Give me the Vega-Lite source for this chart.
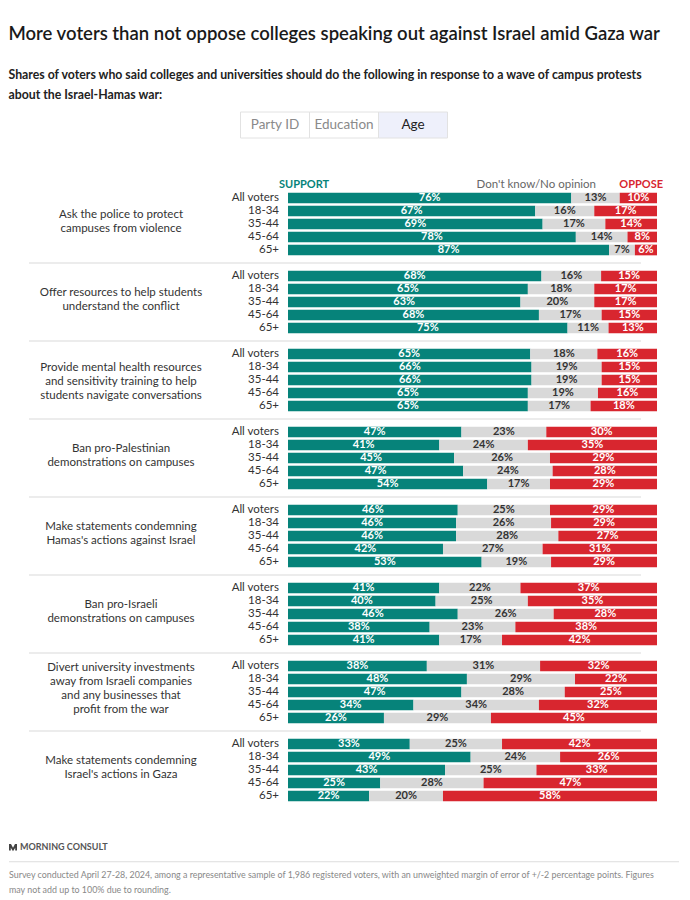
{
  "$schema": "https://vega.github.io/schema/vega-lite/v6.json",
  "background": "white",
  "padding": {"left": 8, "top": 24, "right": 12, "bottom": 0},
  "bounds": "flush",
  "title": {
    "text": "More voters than not oppose colleges speaking out against Israel amid Gaza war",
    "subtitle": [
      "Shares of voters who said colleges and universities should do the following in response to a wave of campus protests",
      "about the Israel-Hamas war:"
    ],
    "anchor": "start",
    "font": "Lato",
    "fontSize": 18.5,
    "fontWeight": 600,
    "color": "#1a1a1a",
    "subtitleFont": "Lato",
    "subtitleFontSize": 12.3,
    "subtitleFontWeight": 700,
    "subtitleColor": "#222222",
    "subtitleLineHeight": 20,
    "subtitlePadding": 26,
    "offset": 10
  },
  "datasets": {
    "rows": [
      {"q": "Q1", "age": "All voters", "favor": 0.76, "neutral": 0.13, "oppose": 0.10},
      {"q": "Q1", "age": "18-34", "favor": 0.67, "neutral": 0.16, "oppose": 0.17},
      {"q": "Q1", "age": "35-44", "favor": 0.69, "neutral": 0.17, "oppose": 0.14},
      {"q": "Q1", "age": "45-64", "favor": 0.78, "neutral": 0.14, "oppose": 0.08},
      {"q": "Q1", "age": "65+", "favor": 0.87, "neutral": 0.07, "oppose": 0.06},
      {"q": "Q2", "age": "All voters", "favor": 0.68, "neutral": 0.16, "oppose": 0.15},
      {"q": "Q2", "age": "18-34", "favor": 0.65, "neutral": 0.18, "oppose": 0.17},
      {"q": "Q2", "age": "35-44", "favor": 0.63, "neutral": 0.20, "oppose": 0.17},
      {"q": "Q2", "age": "45-64", "favor": 0.68, "neutral": 0.17, "oppose": 0.15},
      {"q": "Q2", "age": "65+", "favor": 0.75, "neutral": 0.11, "oppose": 0.13},
      {"q": "Q3", "age": "All voters", "favor": 0.65, "neutral": 0.18, "oppose": 0.16},
      {"q": "Q3", "age": "18-34", "favor": 0.66, "neutral": 0.19, "oppose": 0.15},
      {"q": "Q3", "age": "35-44", "favor": 0.66, "neutral": 0.19, "oppose": 0.15},
      {"q": "Q3", "age": "45-64", "favor": 0.65, "neutral": 0.19, "oppose": 0.16},
      {"q": "Q3", "age": "65+", "favor": 0.65, "neutral": 0.17, "oppose": 0.18},
      {"q": "Q4", "age": "All voters", "favor": 0.47, "neutral": 0.23, "oppose": 0.30},
      {"q": "Q4", "age": "18-34", "favor": 0.41, "neutral": 0.24, "oppose": 0.35},
      {"q": "Q4", "age": "35-44", "favor": 0.45, "neutral": 0.26, "oppose": 0.29},
      {"q": "Q4", "age": "45-64", "favor": 0.47, "neutral": 0.24, "oppose": 0.28},
      {"q": "Q4", "age": "65+", "favor": 0.54, "neutral": 0.17, "oppose": 0.29},
      {"q": "Q5", "age": "All voters", "favor": 0.46, "neutral": 0.25, "oppose": 0.29},
      {"q": "Q5", "age": "18-34", "favor": 0.46, "neutral": 0.26, "oppose": 0.29},
      {"q": "Q5", "age": "35-44", "favor": 0.46, "neutral": 0.28, "oppose": 0.27},
      {"q": "Q5", "age": "45-64", "favor": 0.42, "neutral": 0.27, "oppose": 0.31},
      {"q": "Q5", "age": "65+", "favor": 0.53, "neutral": 0.19, "oppose": 0.29},
      {"q": "Q6", "age": "All voters", "favor": 0.41, "neutral": 0.22, "oppose": 0.37},
      {"q": "Q6", "age": "18-34", "favor": 0.40, "neutral": 0.25, "oppose": 0.35},
      {"q": "Q6", "age": "35-44", "favor": 0.46, "neutral": 0.26, "oppose": 0.28},
      {"q": "Q6", "age": "45-64", "favor": 0.38, "neutral": 0.23, "oppose": 0.38},
      {"q": "Q6", "age": "65+", "favor": 0.41, "neutral": 0.17, "oppose": 0.42},
      {"q": "Q7", "age": "All voters", "favor": 0.38, "neutral": 0.31, "oppose": 0.32},
      {"q": "Q7", "age": "18-34", "favor": 0.48, "neutral": 0.29, "oppose": 0.22},
      {"q": "Q7", "age": "35-44", "favor": 0.47, "neutral": 0.28, "oppose": 0.25},
      {"q": "Q7", "age": "45-64", "favor": 0.34, "neutral": 0.34, "oppose": 0.32},
      {"q": "Q7", "age": "65+", "favor": 0.26, "neutral": 0.29, "oppose": 0.45},
      {"q": "Q8", "age": "All voters", "favor": 0.33, "neutral": 0.25, "oppose": 0.42},
      {"q": "Q8", "age": "18-34", "favor": 0.49, "neutral": 0.24, "oppose": 0.26},
      {"q": "Q8", "age": "35-44", "favor": 0.43, "neutral": 0.25, "oppose": 0.33},
      {"q": "Q8", "age": "45-64", "favor": 0.25, "neutral": 0.28, "oppose": 0.47},
      {"q": "Q8", "age": "65+", "favor": 0.22, "neutral": 0.20, "oppose": 0.58}
    ],
    "questions": [
      {"q": "Q1", "question": "Ask the police to protect\ncampuses from violence"},
      {"q": "Q2", "question": "Offer resources to help students\nunderstand the conflict"},
      {"q": "Q3", "question": "Provide mental health resources\nand sensitivity  training to help\nstudents navigate conversations"},
      {"q": "Q4", "question": "Ban pro-Palestinian\ndemonstrations on campuses"},
      {"q": "Q5", "question": "Make statements condemning\nHamas's actions against Israel"},
      {"q": "Q6", "question": "Ban pro-Israeli\ndemonstrations on campuses"},
      {"q": "Q7", "question": "Divert university investments\naway from Israeli companies\nand any businesses that\nprofit from the war"},
      {"q": "Q8", "question": "Make statements condemning\nIsrael's actions in Gaza"}
    ],
    "tabs": [
      {"tab": "Party ID", "selected": false},
      {"tab": "Education", "selected": false},
      {"tab": "Age", "selected": true}
    ],
    "footer": [
      {"part": "logo", "text": "MORNING CONSULT"},
      {"part": "note1", "text": "Survey conducted April 27-28, 2024, among a representative sample of 1,986 registered voters, with an unweighted margin of error of +/-2 percentage points. Figures"},
      {"part": "note2", "text": "may not add up to 100% due to rounding."}
    ]
  },
  "spacing": 10,
  "center": true,
  "vconcat": [
    {
      "width": 207,
      "height": 26,
      "data": {"name": "tabs"},
      "layer": [
        {
          "mark": {"type": "rect", "stroke": "#e2e2e2", "strokeWidth": 1},
          "encoding": {
            "x": {"field": "tab", "type": "nominal", "sort": null, "axis": null, "scale": {"paddingInner": 0, "paddingOuter": 0}},
            "fill": {"condition": {"test": "datum.selected", "value": "#eef0fb"}, "value": "white"}
          }
        },
        {
          "mark": {"type": "text", "fontSize": 13.5, "font": "Lato", "baseline": "middle"},
          "encoding": {
            "x": {"field": "tab", "type": "nominal", "sort": null, "axis": null},
            "text": {"field": "tab"},
            "color": {"condition": {"test": "datum.selected", "value": "#222222"}, "value": "#8a8a8a"}
          }
        }
      ]
    },
    {
      "width": 670,
      "height": 681.5,
      "data": {"name": "rows"},
      "layer": [
        {
          "transform": [{"fold": ["favor", "neutral", "oppose"], "as": ["key", "value"]}],
          "mark": {"type": "bar"},
          "encoding": {
            "y": {"field": "q", "type": "nominal", "axis": null, "scale": {"type": "band", "paddingInner": 0.16667, "paddingOuter": 0.4519, "align": 0.617}},
            "yOffset": {"field": "age", "type": "nominal", "scale": {"domain": ["All voters", "18-34", "35-44", "45-64", "65+"], "paddingInner": 0.18, "paddingOuter": 0.09}},
            "x": {"field": "value", "type": "quantitative", "stack": "normalize", "axis": null, "scale": {"domain": [-0.7561, 1.0596], "nice": false, "zero": false}},
            "color": {"field": "key", "type": "nominal", "legend": null, "scale": {"domain": ["favor", "neutral", "oppose"], "range": ["#06837a", "#d9d9d9", "#d8262f"]}},
            "order": {"field": "key", "type": "nominal"}
          }
        },
        {
          "transform": [{"fold": ["favor", "neutral", "oppose"], "as": ["key", "value"]}],
          "mark": {"type": "text", "fontSize": 11, "fontWeight": "bold", "font": "Lato", "baseline": "middle"},
          "encoding": {
            "y": {"field": "q", "type": "nominal"},
            "yOffset": {"field": "age", "type": "nominal"},
            "x": {"field": "value", "type": "quantitative", "stack": "normalize", "bandPosition": 0.5},
            "detail": {"field": "key", "type": "nominal"},
            "order": {"field": "key", "type": "nominal"},
            "text": {"field": "value", "type": "quantitative", "format": ".0%"},
            "color": {"condition": {"test": "datum.key === 'neutral'", "value": "#333333"}, "value": "white"}
          }
        },
        {
          "mark": {"type": "text", "align": "right", "dx": -9, "fontSize": 11.5, "font": "Lato", "color": "#333333", "baseline": "middle"},
          "encoding": {
            "y": {"field": "q", "type": "nominal"},
            "yOffset": {"field": "age", "type": "nominal"},
            "x": {"datum": 0},
            "text": {"field": "age"}
          }
        },
        {
          "data": {"name": "questions"},
          "transform": [{"filter": "length(split(datum.question, '\\n')) == 2"}],
          "mark": {"type": "text", "align": "center", "fontSize": 11.5, "font": "Lato", "lineBreak": "\n", "lineHeight": 14, "color": "#333333", "baseline": "middle", "dy": -8.5},
          "encoding": {
            "y": {"field": "q", "type": "nominal"},
            "x": {"datum": -0.4526},
            "text": {"field": "question"}
          }
        },
        {
          "data": {"name": "questions"},
          "transform": [{"filter": "length(split(datum.question, '\\n')) == 3"}],
          "mark": {"type": "text", "align": "center", "fontSize": 11.5, "font": "Lato", "lineBreak": "\n", "lineHeight": 14, "color": "#333333", "baseline": "middle", "dy": -11.5},
          "encoding": {
            "y": {"field": "q", "type": "nominal"},
            "x": {"datum": -0.4526},
            "text": {"field": "question"}
          }
        },
        {
          "data": {"name": "questions"},
          "transform": [{"filter": "length(split(datum.question, '\\n')) == 4"}],
          "mark": {"type": "text", "align": "center", "fontSize": 11.5, "font": "Lato", "lineBreak": "\n", "lineHeight": 14, "color": "#333333", "baseline": "middle", "dy": -23.5},
          "encoding": {
            "y": {"field": "q", "type": "nominal"},
            "x": {"datum": -0.4526},
            "text": {"field": "question"}
          }
        },
        {
          "data": {"name": "questions"},
          "transform": [{"filter": "datum.q != 'Q1'"}],
          "mark": {"type": "rule", "color": "#e6e6e6", "strokeWidth": 1.5, "yOffset": -6.5},
          "encoding": {
            "y": {"field": "q", "type": "nominal", "bandPosition": 0},
            "x": {"datum": -0.702},
            "x2": {"datum": 0.9566}
          }
        },
        {
          "data": {"name": "questions"},
          "transform": [{"filter": "datum.q == 'Q1'"}],
          "layer": [
            {
              "mark": {"type": "text", "text": "SUPPORT", "align": "left", "dx": -9, "dy": -39, "fontSize": 11, "fontWeight": "bold", "font": "Lato", "color": "#06837a", "baseline": "middle"},
              "encoding": {"y": {"field": "q", "type": "nominal"}, "x": {"datum": 0}}
            },
            {
              "mark": {"type": "text", "text": "Don't know/No opinion", "align": "right", "dy": -39, "fontSize": 11.5, "font": "Lato", "color": "#666666", "baseline": "middle"},
              "encoding": {"y": {"field": "q", "type": "nominal"}, "x": {"datum": 0.8347}}
            },
            {
              "mark": {"type": "text", "text": "OPPOSE", "align": "right", "dx": 6, "dy": -39, "fontSize": 11, "fontWeight": "bold", "font": "Lato", "color": "#d8262f", "baseline": "middle"},
              "encoding": {"y": {"field": "q", "type": "nominal"}, "x": {"datum": 1}}
            }
          ]
        }
      ]
    },
    {
      "width": 670,
      "height": 58,
      "data": {"name": "footer"},
      "layer": [
        {
          "transform": [{"filter": "datum.part == 'logo'"}],
          "mark": {"type": "rule", "color": "#dddddd", "strokeWidth": 1},
          "encoding": {
            "x": {"datum": 0, "type": "quantitative", "axis": null, "scale": {"domain": [0, 1], "nice": false, "zero": false}},
            "x2": {"datum": 1},
            "y": {"datum": "rule", "type": "nominal", "axis": null, "scale": {"type": "band", "domain": ["logo", "rule", "note1", "note2"], "paddingInner": 0, "paddingOuter": 0}}
          }
        },
        {
          "transform": [{"filter": "datum.part == 'logo'"}],
          "mark": {"type": "point", "filled": true, "opacity": 1, "color": "#444444", "size": 64, "xOffset": 4, "shape": "M -1 -0.8 L -0.5 -0.8 L 0 0.15 L 0.5 -0.8 L 1 -0.8 L 1 0.8 L 0.55 0.8 L 0.55 0.1 L 0 1 L -0.55 0.1 L -0.55 0.8 L -1 0.8 Z"},
          "encoding": {
            "x": {"datum": 0},
            "y": {"field": "part", "type": "nominal"}
          }
        },
        {
          "transform": [{"filter": "datum.part == 'logo'"}],
          "mark": {"type": "text", "align": "left", "dx": 11, "fontSize": 9, "fontWeight": "bold", "font": "Lato", "color": "#555555", "baseline": "middle"},
          "encoding": {
            "x": {"datum": 0},
            "y": {"field": "part", "type": "nominal"},
            "text": {"field": "text"}
          }
        },
        {
          "transform": [{"filter": "datum.part != 'logo'"}],
          "mark": {"type": "text", "align": "left", "dy": -1, "fontSize": 8.9, "font": "Lato", "color": "#888888", "baseline": "middle"},
          "encoding": {
            "x": {"datum": 0},
            "y": {"field": "part", "type": "nominal"},
            "text": {"field": "text"}
          }
        }
      ]
    }
  ],
  "config": {
    "view": {"stroke": null},
    "font": "Lato"
  }
}
